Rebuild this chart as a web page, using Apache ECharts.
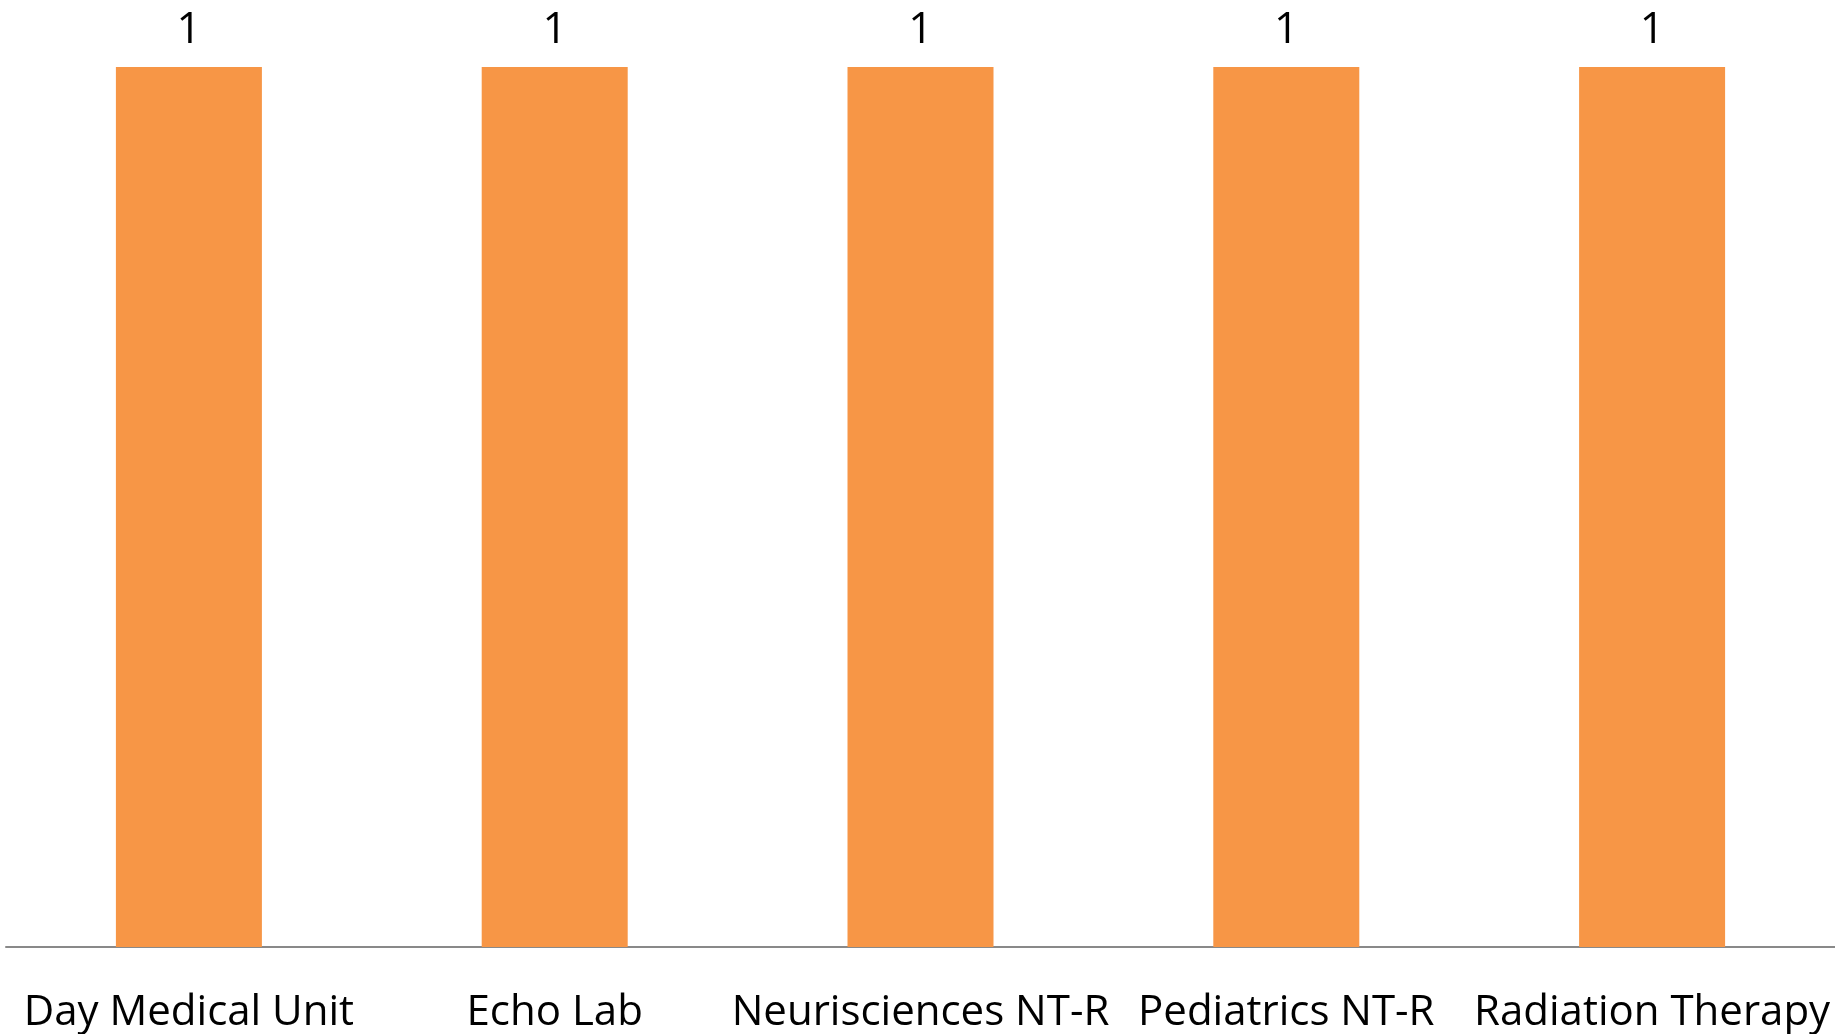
<!DOCTYPE html>
<html><head><meta charset="utf-8">
<script src="https://cdn.jsdelivr.net/npm/echarts@6/dist/echarts.min.js"></script>
<style>html,body{margin:0;padding:0;background:#fff}#c{width:1835px;height:1034px}</style>
</head><body><div id="c"></div>
<script>
const categories = ["Day Medical Unit", "Echo Lab", "Neurisciences NT-R", "Pediatrics NT-R", "Radiation Therapy"];
const values = [1, 1, 1, 1, 1];

const chart = echarts.init(document.getElementById('c'));
chart.setOption({
  animation: false,
  grid: {left: 6, right: 0, top: 67, bottom: 85},
  xAxis: {
    type: 'category', data: categories,
    axisLine: {lineStyle: {color: '#898989', width: 2}},
    axisTick: {show: false},
    axisLabel: {color: '#000', fontSize: 42, fontFamily: 'Open Sans', margin: 45, interval: 0}
  },
  yAxis: {type: 'value', min: 0, max: 1, show: false, splitLine: {show: false}},
  series: [{
    type: 'bar', data: values, barWidth: 146,
    itemStyle: {color: '#F79646'},
    label: {show: true, position: 'top', color: '#000', fontSize: 43, fontFamily: 'Open Sans', distance: 15}
  }]
});
</script></body></html>
